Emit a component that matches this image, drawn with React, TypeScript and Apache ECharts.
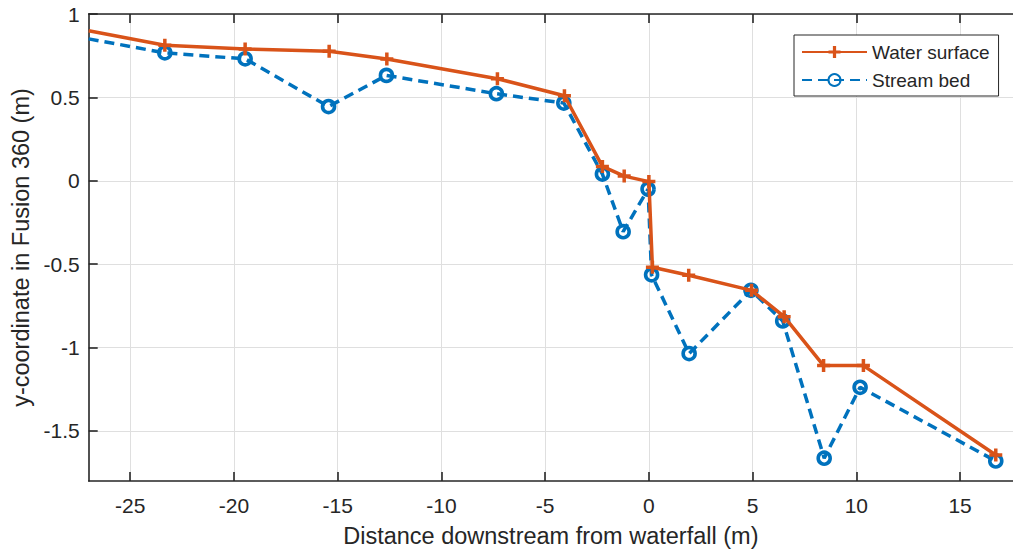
import React, { useEffect, useRef } from "react";
import * as echarts from "echarts";

// Water surface (orange, "+" markers)
const waterX = [-27, -23.33, -19.46, -15.41, -12.63, -7.3, -4.07, -2.24, -1.19, 0.0, 0.17, 1.92, 4.95, 6.52, 8.42, 10.34, 16.72];
const waterY = [0.9, 0.813, 0.79, 0.777, 0.73, 0.612, 0.51, 0.086, 0.028, -0.005, -0.518, -0.566, -0.657, -0.815, -1.108, -1.108, -1.644];

// Stream bed (blue dashed, "o" markers)
const bedX = [-27, -23.33, -19.46, -15.44, -12.65, -7.35, -4.1, -2.24, -1.24, -0.04, 0.13, 1.94, 4.92, 6.45, 8.45, 10.18, 16.72];
const bedY = [0.851, 0.767, 0.731, 0.445, 0.632, 0.522, 0.466, 0.04, -0.305, -0.05, -0.564, -1.036, -0.657, -0.84, -1.663, -1.238, -1.68];

const xTicks = [-25, -20, -15, -10, -5, 0, 5, 10, 15];
const yTicks = [-1.5, -1, -0.5, 0, 0.5, 1];

const X_MIN = -27;
const X_MAX = 17.55;
const Y_MIN = -1.8;
const Y_MAX = 1;

const FONT = '"Liberation Sans", Arial, Helvetica, sans-serif';
const TEXT = "#262626";
const ORANGE = "#D95319";
const BLUE = "#0072BD";
const PLUS = "path://M4.75,0H8.25V4.75H13V8.25H8.25V13H4.75V8.25H0V4.75H4.75Z";

function toData(xs: number[], ys: number[]) {
  return xs.map((x, i) =>
    i === 0 ? { value: [x, ys[i]], symbol: "none" } : { value: [x, ys[i]] }
  );
}

export default function App() {
  const ref = useRef<HTMLDivElement>(null);
  useEffect(() => {
    if (!ref.current) return;
    const chart = echarts.init(ref.current, undefined, { renderer: "svg" });
    chart.setOption({
      animation: false,
      backgroundColor: "#ffffff",
      textStyle: { fontFamily: FONT },
      grid: { left: 88.7, right: 0, top: 14, bottom: 70, containLabel: false },
      legend: {
        orient: "vertical",
        left: 794,
        top: 35,
        padding: [7.5, 9, 6.5, 7],
        itemWidth: 65,
        itemHeight: 15,
        itemGap: 9,
        backgroundColor: "#ffffff",
        borderColor: TEXT,
        borderWidth: 1,
        borderRadius: 0,
        textStyle: { color: TEXT, fontSize: 19, fontFamily: FONT },
        data: ["Water surface", "Stream bed"],
      },
      xAxis: [
        {
          type: "value",
          min: X_MIN,
          max: X_MAX,
          position: "bottom",
          name: "Distance downstream from waterfall (m)",
          nameLocation: "middle",
          nameGap: 43,
          nameTextStyle: { color: TEXT, fontSize: 23.5, fontFamily: FONT },
          axisLine: { show: true, onZero: false, lineStyle: { color: TEXT, width: 1.6 } },
          axisTick: { show: true, inside: true, length: 9, customValues: xTicks, lineStyle: { color: TEXT, width: 1.6 } },
          axisLabel: { show: true, customValues: xTicks, margin: 14, color: TEXT, fontSize: 21, fontFamily: FONT, showMinLabel: true, showMaxLabel: true },
          splitLine: { show: true, lineStyle: { color: "#dfdfdf", width: 1 } },
        },
        {
          type: "value",
          min: X_MIN,
          max: X_MAX,
          position: "top",
          axisLine: { show: true, onZero: false, lineStyle: { color: TEXT, width: 1.6 } },
          axisTick: { show: true, inside: true, length: 9, customValues: xTicks, lineStyle: { color: TEXT, width: 1.6 } },
          axisLabel: { show: false },
          splitLine: { show: false },
        },
      ],
      yAxis: {
        type: "value",
        min: Y_MIN,
        max: Y_MAX,
        position: "left",
        name: "y-coordinate in Fusion 360 (m)",
        nameLocation: "middle",
        nameGap: 55,
        nameTextStyle: { color: TEXT, fontSize: 23.5, fontFamily: FONT },
        axisLine: { show: true, onZero: false, lineStyle: { color: TEXT, width: 1.6 } },
        axisTick: { show: true, inside: true, length: 9, customValues: yTicks, lineStyle: { color: TEXT, width: 1.6 } },
        axisLabel: { show: true, customValues: yTicks, margin: 9, color: TEXT, fontSize: 21, fontFamily: FONT },
        splitLine: { show: true, lineStyle: { color: "#dfdfdf", width: 1 } },
      },
      series: [
        {
          name: "Stream bed",
          type: "line",
          xAxisIndex: 0,
          z: 2,
          data: toData(bedX, bedY),
          symbol: "circle",
          symbolSize: 12,
          showAllSymbol: true,
          itemStyle: { color: "rgba(255,255,255,0)", borderColor: BLUE, borderWidth: 3.6 },
          lineStyle: { color: BLUE, width: 3.5, type: [10, 6] },
          emphasis: { disabled: true },
        },
        {
          name: "Water surface",
          type: "line",
          xAxisIndex: 0,
          z: 3,
          data: toData(waterX, waterY),
          symbol: PLUS,
          symbolSize: 13,
          symbolKeepAspect: true,
          showAllSymbol: true,
          itemStyle: { color: ORANGE },
          lineStyle: { color: ORANGE, width: 3.5 },
          emphasis: { disabled: true },
        },
      ],
    });
    return () => chart.dispose();
  }, []);
  return (
    <div
      ref={ref}
      style={{ position: "absolute", left: 0, top: 0, width: 1013, height: 553 }}
    />
  );
}
